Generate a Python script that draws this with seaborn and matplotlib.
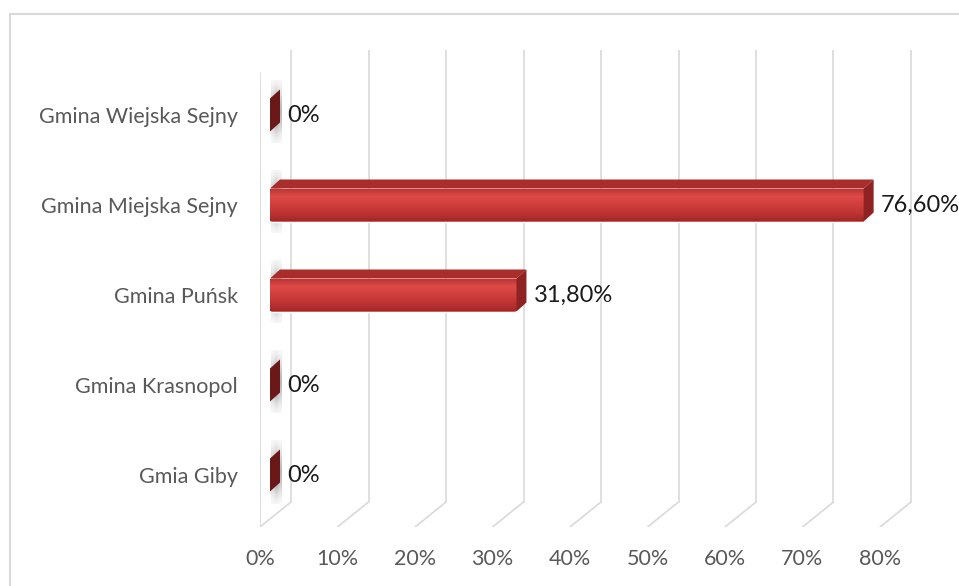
import numpy as np
import matplotlib
matplotlib.use("Agg")
import matplotlib.pyplot as plt
from matplotlib.patches import Polygon, Rectangle
from matplotlib.colors import LinearSegmentedColormap
import pandas as pd
import seaborn as sns

# dane
gminy = ['Gmina Wiejska Sejny', 'Gmina Miejska Sejny', 'Gmina Puńsk',
         'Gmina Krasnopol', 'Gmia Giby']
udzial = [0.0, 76.6, 31.8, 0.0, 0.0]
osie = [0, 10, 20, 30, 40, 50, 60, 70, 80]

df = pd.DataFrame({'Gmina': gminy, 'Udzial': udzial})

sns.set_theme(style='white')
plt.rcParams['font.family'] = ['Lato', 'DejaVu Sans']

fig = plt.figure(figsize=(9.59, 5.86), dpi=100)
ax = fig.add_axes([260 / 959, 59 / 586, 699 / 959, 477 / 586])

# przeliczenie pikseli na jednostki osi (efekt 3D)
PX = 7.75
PY = 90.0


def dx(px):
    return px / PX


def ypix(p):
    return (p - 115) / PY


h = 33 / PY
sns.barplot(data=df, x='Udzial', y='Gmina', orient='h', color='#c93a36',
            width=h, saturation=1, ax=ax, zorder=3)
bars = list(ax.patches)

# siatka 3D
siatka = '#d9d9d9'
for t in osie:
    fx = t - dx(10)
    bx = t + dx(21)
    ax.plot([fx, bx], [ypix(527), ypix(502)], color=siatka, lw=1.2, zorder=1)
    ax.plot([bx, bx], [ypix(502), ypix(50)], color=siatka, lw=1.2, zorder=1)
ax.plot([-dx(10), -dx(10)], [ypix(527), ypix(73)], color=siatka, lw=1.2, zorder=1)

# gradient na przedniej scianie
cmap = LinearSegmentedColormap.from_list(
    'slupek', ['#b93232', '#dd4a48', '#d03f3d', '#bf3433', '#a12828'])
grad = np.linspace(0, 1, 60).reshape(-1, 1)

for i, (bar, v) in enumerate(zip(bars, udzial)):
    y0 = bar.get_y()
    y1 = y0 + bar.get_height()
    ytop, ybot = min(y0, y1), max(y0, y1)
    off_x = dx(10)
    off_y = 9 / PY

    # cien na scianie bocznej
    n = 80
    u = np.linspace(0, 1, n)
    a = 0.75 * np.exp(-((u - 0.5) / 0.33) ** 2)
    rgba = np.zeros((n, 3, 4))
    rgba[:, :, :3] = 0.4
    rgba[:, :, 3] = a[:, None] * np.array([0.6, 1.0, 0.6])[None, :]
    ax.imshow(rgba, extent=[dx(1), dx(12), ybot + 12 / PY, ytop - 18 / PY],
              aspect='auto', zorder=2, interpolation='bilinear')

    if v > 0:
        im = ax.imshow(grad, cmap=cmap, extent=[0, v, ybot, ytop],
                       aspect='auto', zorder=3.5, interpolation='bilinear')
        im.set_clip_path(bar)
        gora = Polygon([(0, ytop), (v, ytop), (v + off_x, ytop - off_y),
                        (off_x, ytop - off_y)], closed=True,
                       facecolor='#a82d2b', edgecolor='none', zorder=4)
        ax.add_patch(gora)
        bok_kolor = '#8f2323'
    else:
        bok_kolor = '#6b1818'
    bok = Polygon([(v, ytop), (v + off_x, ytop - off_y), (v + off_x, ybot - off_y),
                   (v, ybot)], closed=True, facecolor=bok_kolor,
                  edgecolor='none', zorder=4)
    ax.add_patch(bok)

    etykieta = '0%' if v == 0 else f'{v:.2f}%'.replace('.', ',')
    ax.text(v + dx(17), i, etykieta, va='center', ha='left', fontsize=17,
            color='#1a1a1a', zorder=5)

ax.set_xlim(-dx(10), dx(959 - 270))
ax.set_ylim(ypix(527), ypix(50))

ax.set_xticks([t - dx(10) for t in osie], labels=[f'{t}%' for t in osie])
ax.tick_params(axis='x', length=0, pad=16, labelsize=15.5, labelcolor='#595959')
ax.tick_params(axis='y', length=0, pad=16, labelsize=15.5, labelcolor='#595959')
ax.set_xlabel('')
ax.set_ylabel('')
for s in ax.spines.values():
    s.set_visible(False)
ax.set_facecolor('none')

# ramka wykresu
fig.add_artist(Rectangle((10 / 959, -0.1), 1.2, 1.1 - 14 / 586,
                         transform=fig.transFigure, fill=False,
                         edgecolor='#d9d9d9', lw=1.5))

fig.savefig('out.png', dpi=100)
